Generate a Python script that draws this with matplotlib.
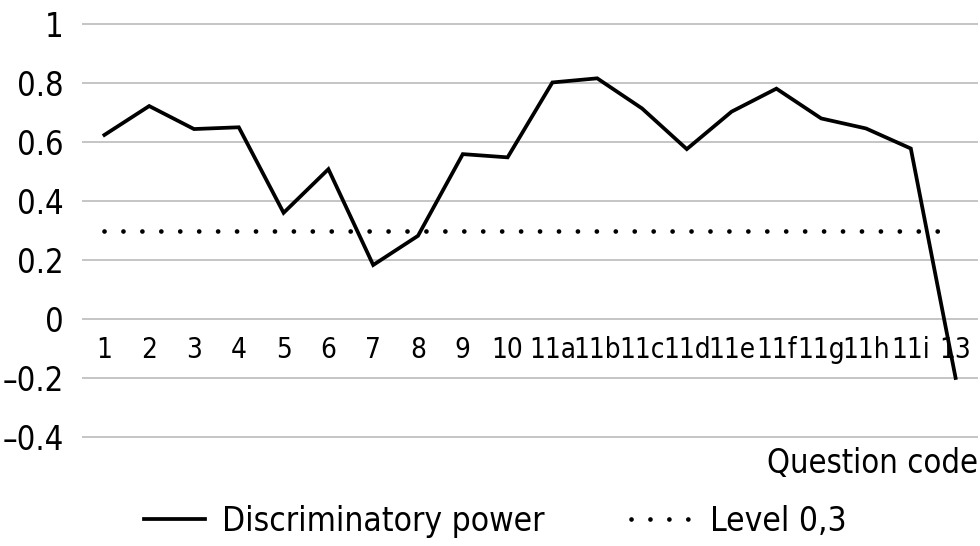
import matplotlib
matplotlib.use("Agg")
import matplotlib.pyplot as plt
from matplotlib import font_manager
from matplotlib.ticker import FixedLocator, FuncFormatter

# look for a narrow face, the reference uses a condensed DIN-like font
narrow = None
for f in font_manager.fontManager.ttflist:
    if 'ondensed' in f.fname or 'Narrow' in f.name or f.stretch in ('condensed', 'semi-condensed', 525, 575):
        narrow = f
        break
if narrow is not None:
    plt.rcParams['font.family'] = [narrow.name, 'DejaVu Sans']
    plt.rcParams['font.stretch'] = narrow.stretch
else:
    plt.rcParams['font.family'] = ['DejaVu Sans']

# data
questions = ['1', '2', '3', '4', '5', '6', '7', '8', '9', '10',
             '11a', '11b', '11c', '11d', '11e', '11f', '11g', '11h', '11i', '13']
disc_power = [0.624, 0.722, 0.644, 0.650, 0.360, 0.508, 0.183, 0.282, 0.559, 0.548,
              0.802, 0.816, 0.714, 0.576, 0.703, 0.781, 0.680, 0.646, 0.578, -0.200]
level = [0.3] * len(questions)
y_ticks = [-0.4, -0.2, 0, 0.2, 0.4, 0.6, 0.8, 1]

fig = plt.figure(figsize=(9.8, 5.46), dpi=100)
ax = fig.add_axes([82 / 980, 1 - 438 / 546, (978 - 82) / 980, (438 - 23) / 546])

x = list(range(len(questions)))
ax.plot(x, disc_power, color='black', lw=2.7, solid_joinstyle='miter',
        label='Discriminatory power')
ax.plot(x, level, color='black', lw=3.4, linestyle=(0, (0.01, 4.0)),
        dash_capstyle='round', label='Level 0,3')

ax.set_xlim(-0.5, len(questions) - 0.5)
ax.set_ylim(-0.4036, 1.0036)

# grid
ax.yaxis.set_major_locator(FixedLocator(y_ticks))
ax.grid(axis='y', color='#c0c0c0', lw=1.3)
ax.set_axisbelow(True)
for s in ax.spines.values():
    s.set_visible(False)

def fmt(v, pos):
    if abs(v) < 1e-9:
        return '0'
    s = ('%.1f' % v).rstrip('0').rstrip('.')
    return s.replace('-', '\u2013')

ax.yaxis.set_major_formatter(FuncFormatter(fmt))
ax.tick_params(axis='y', length=0, pad=13, labelsize=23.5)

# category labels sit under the zero line
ax.spines['bottom'].set_position(('data', 0))
ax.set_xticks(x)
ax.set_xticklabels(questions)
ax.tick_params(axis='x', length=0, pad=12, labelsize=20)

ax.text(1.0, -0.022, 'Question code', transform=ax.transAxes,
        ha='right', va='top', fontsize=23.5)

fig.legend(loc='center', bbox_to_anchor=(0.505, 0.045), ncol=2, frameon=False,
           fontsize=24, handlelength=1.85, handletextpad=0.5, columnspacing=2.6)

fig.savefig('out.png', dpi=100)
